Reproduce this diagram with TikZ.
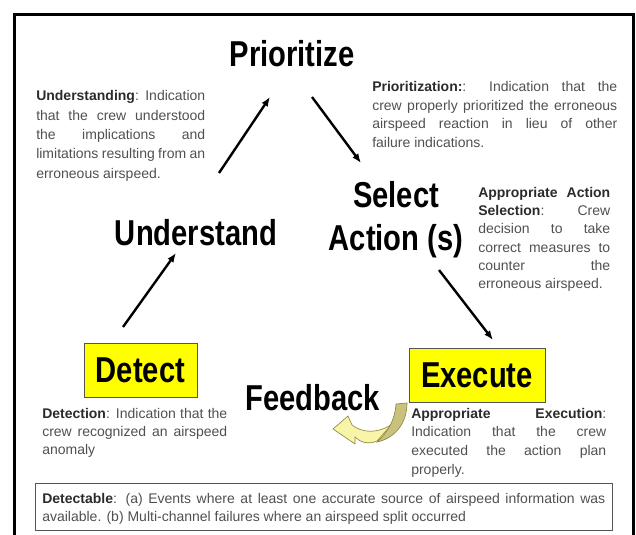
\documentclass[tikz,border=0pt]{standalone}
\usepackage{fontspec}
\setmainfont{Liberation Sans}
\newfontfamily\headfont{Liberation Sans}[FakeStretch=0.81]
\usetikzlibrary{arrows.meta}

\definecolor{txtgray}{HTML}{505050}
\definecolor{leadgray}{HTML}{2B2B2B}
\definecolor{boxyellow}{HTML}{FFFF00}
\definecolor{boxline}{HTML}{555555}
\definecolor{fbpale}{HTML}{F8F4A8}
\definecolor{fbdark}{HTML}{C9C27C}
\definecolor{fbline}{HTML}{8E8A45}

\tolerance=10000
\hbadness=10000

\tikzset{
  headline/.style={font=\headfont\bfseries\fontsize{27}{32.25}\selectfont, inner sep=0pt},
  note/.style={font=\fontsize{10.5}{13.8}\selectfont, text=txtgray, align=justify, inner sep=0pt, anchor=base west},
  stage/.style={draw=boxline, line width=0.75pt, fill=boxyellow, minimum height=40.5pt},
  flow/.style={line width=1.8pt, -{Latex[length=7pt,width=5.5pt]}},
}
\newcommand{\lead}[1]{\textcolor{leadgray}{\textbf{#1}}}

\begin{document}
\begin{tikzpicture}[x=0.75pt,y=0.75pt,yscale=-1,xscale=1]

            \useasboundingbox (0,0) rectangle (636,535);

            % Frame
            \draw[line width=2.25pt] (14,535) -- (14,15) -- (633,15) -- (633,535);

            % Stages
            \node[headline, anchor=base] (prioritize) at (292,67) {Prioritize};
            \node[headline, anchor=base] (understand) at (196,245) {Understand};
            \node[headline, anchor=base, align=center] (select) at (396,250) {Select\\Action (s)};
            \node[stage, headline, minimum width=84.75pt] (detect) at (140.5,370) {Detect};
            \node[stage, headline, minimum width=102pt] (execute) at (477,375) {Execute};
            \node[headline, anchor=base] (feedback) at (312.5,410) {Feedback};

            % Notes
            \node[note, text width=126.75pt, font=\fontsize{10.5}{14.5}\selectfont] (understanding) at (36,101)
              {\lead{Understanding}: Indication\linebreak that the crew understood\linebreak the implications and\linebreak limitations resulting from an\linebreak erroneous airspeed.};
            \node[note, text width=183.75pt] (prioritization) at (372,92)
              {\lead{Prioritization:}: Indication that the\linebreak crew properly prioritized the erroneous\linebreak airspeed reaction in lieu of other\linebreak failure indications.};
            \node[note, text width=99pt] (selection) at (478,197)
              {\lead{Appropriate Action\linebreak Selection}: Crew\linebreak decision to take\linebreak correct measures to\linebreak counter the\linebreak erroneous airspeed.};
            \node[note, text width=138.75pt] (detection) at (42,418)
              {\lead{Detection}: Indication that the\linebreak crew recognized an airspeed\linebreak anomaly};
            \node[note, text width=146.25pt, font=\fontsize{10.5}{14.2}\selectfont] (execution) at (411,418)
              {\lead{Appropriate Execution}:\linebreak Indication that the crew\linebreak executed the action plan\linebreak properly.};
            \draw[boxline] (35,483) rectangle (612,530);
            \node[note, text width=422.25pt, font=\fontsize{10.5}{14.2}\selectfont] (detectable) at (42,503)
              {\lead{Detectable}: (a) Events where at least one accurate source of airspeed information was\linebreak available. (b) Multi-channel failures where an airspeed split occurred};

            % Arrows
            \coordinate (u1) at (219,173);
            \coordinate (p1) at (270,97);
            \coordinate (p2) at (312,97);
            \coordinate (s1) at (361,163);
            \coordinate (d1) at (123,327);
            \coordinate (u2) at (176,253);
            \coordinate (s2) at (439,270);
            \coordinate (e1) at (493,340);
            \draw[flow] (u1) -- (p1);
            \draw[flow] (p2) -- (s1);
            \draw[flow] (d1) -- (u2);
            \draw[flow] (s2) -- (e1);

            % Feedback arrow
            \draw[fbline, fill=fbpale, line width=0.5pt] (377,441) .. controls (368,445) and (360,442) .. (355,437) -- (355,444) -- (333,429) -- (348,416) -- (352,425) .. controls (362,433) and (378,434) .. (392,424) -- cycle;
            \draw[fbline, fill=fbdark, line width=0.5pt] (396,404) -- (407,403) .. controls (407,422) and (396,438) .. (377,442) .. controls (388,432) and (395,420) .. (396,404) -- cycle;

            \end{tikzpicture}
\end{document}
